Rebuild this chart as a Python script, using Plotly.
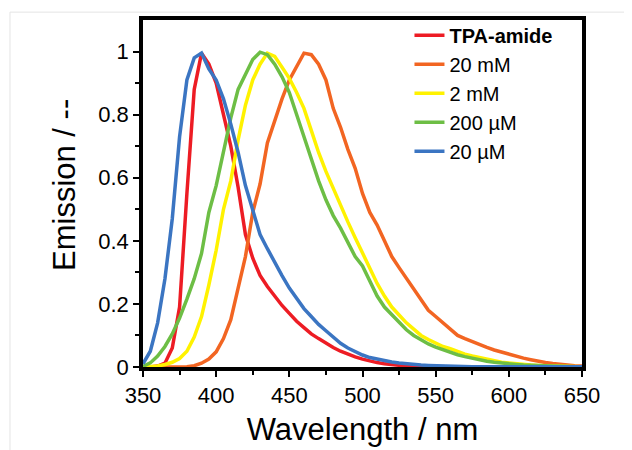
import plotly.graph_objects as go

wavelength = list(range(350, 655, 5))

tpa_amide = [0.0, 0.0, 0.003, 0.012, 0.06, 0.19, 0.55, 0.88, 0.995, 0.96,
             0.9, 0.8, 0.7, 0.57, 0.42, 0.345, 0.29, 0.255, 0.225, 0.195,
             0.17, 0.145, 0.125, 0.105, 0.09, 0.075, 0.062, 0.05, 0.04, 0.032,
             0.025, 0.019, 0.014, 0.01, 0.007, 0.005, 0.003, 0.002, 0.001, 0.001,
             0, 0, 0, 0, 0, 0, 0, 0, 0, 0,
             0, 0, 0, 0, 0, 0, 0, 0, 0, 0, 0]

c_20mM = [0, 0, 0, 0, 0, 0, 0.001, 0.004, 0.012, 0.025,
          0.048, 0.09, 0.15, 0.25, 0.35, 0.49, 0.58, 0.71, 0.78, 0.85,
          0.91, 0.95, 0.995, 0.99, 0.96, 0.91, 0.82, 0.76, 0.69, 0.63,
          0.55, 0.49, 0.45, 0.4, 0.35, 0.315, 0.28, 0.245, 0.21, 0.18,
          0.16, 0.14, 0.12, 0.1, 0.09, 0.08, 0.07, 0.062, 0.054, 0.047,
          0.04, 0.034, 0.028, 0.023, 0.018, 0.014, 0.011, 0.008, 0.006, 0.004, 0.003]

c_2mM = [0, 0.001, 0.003, 0.008, 0.015, 0.027, 0.05, 0.095, 0.16, 0.26,
         0.37, 0.5, 0.59, 0.72, 0.83, 0.91, 0.96, 0.995, 0.985, 0.95,
         0.915, 0.87, 0.82, 0.75, 0.68, 0.62, 0.565, 0.51, 0.46, 0.41,
         0.36, 0.31, 0.265, 0.225, 0.19, 0.165, 0.14, 0.12, 0.1, 0.087,
         0.075, 0.065, 0.058, 0.048, 0.041, 0.035, 0.03, 0.024, 0.019, 0.015,
         0.013, 0.01, 0.008, 0.006, 0.005, 0.004, 0.003, 0.002, 0.002, 0.001, 0.001]

c_200uM = [0.002, 0.013, 0.035, 0.065, 0.105, 0.155, 0.215, 0.28, 0.36, 0.49,
           0.575, 0.68, 0.79, 0.88, 0.925, 0.975, 0.998, 0.99, 0.96, 0.92,
           0.87, 0.8, 0.73, 0.66, 0.59, 0.53, 0.48, 0.44, 0.395, 0.35,
           0.32, 0.27, 0.225, 0.19, 0.165, 0.14, 0.118, 0.1, 0.085, 0.073,
           0.063, 0.055, 0.046, 0.039, 0.033, 0.028, 0.022, 0.018, 0.015, 0.012,
           0.01, 0.008, 0.006, 0.005, 0.004, 0.003, 0.002, 0.002, 0.001, 0.001, 0.001]

c_20uM = [0.01, 0.05, 0.14, 0.28, 0.47, 0.73, 0.91, 0.98, 0.995, 0.945,
          0.91, 0.85, 0.77, 0.68, 0.575, 0.5, 0.42, 0.375, 0.33, 0.29,
          0.25, 0.215, 0.185, 0.16, 0.135, 0.115, 0.095, 0.075, 0.06, 0.048,
          0.038, 0.03, 0.025, 0.02, 0.016, 0.013, 0.01, 0.008, 0.006, 0.005,
          0.004, 0.003, 0.002, 0.002, 0.001, 0.001, 0.001, 0.001, 0.001, 0.001,
          0.001, 0.001, 0.001, 0.001, 0.001, 0.001, 0.001, 0.001, 0.001, 0.001, 0.001]

series_names = ["<b>TPA-amide</b>", "20 mM", "2 mM", "200 µM", "20 µM"]
series_values = [tpa_amide, c_20mM, c_2mM, c_200uM, c_20uM]
series_colors = ["#ED1C24", "#F26522", "#FFF200", "#6DBE45", "#3B75C2"]

FONT = "Liberation Sans, Arial, sans-serif"

fig = go.Figure()
for name, vals, col in zip(series_names, series_values, series_colors):
    fig.add_trace(go.Scatter(x=wavelength, y=vals, mode="lines", name=name,
                             line=dict(color=col, width=3.5)))

fig.update_layout(
    width=624, height=442,
    margin=dict(l=135, r=50, t=8, b=81),
    paper_bgcolor="white", plot_bgcolor="white",
    font=dict(family=FONT, color="black", size=22),
    showlegend=True,
    legend=dict(x=0.607, y=1.012, xanchor="left", yanchor="top",
                bgcolor="rgba(0,0,0,0)", font=dict(size=20, family=FONT, color="black"),
                tracegroupgap=0),
    xaxis=dict(range=[350, 650], dtick=50, tick0=350, showgrid=False, zeroline=False,
               showline=True, linecolor="black", linewidth=3.5, mirror=True,
               ticks="outside", ticklen=6, tickwidth=1.5, tickcolor="black",
               minor=dict(dtick=25, ticks="outside", ticklen=4, tickwidth=1.5, tickcolor="black"),
               tickfont=dict(size=22, family=FONT),
               title=dict(text="Wavelength / nm", font=dict(size=31, family=FONT), standoff=12)),
    yaxis=dict(range=[0, 1.1], tickvals=[0, 0.2, 0.4, 0.6, 0.8, 1.0],
               ticktext=["0", "0.2", "0.4", "0.6", "0.8", "1"],
               showgrid=False, zeroline=False,
               showline=True, linecolor="black", linewidth=3.5, mirror=True,
               ticks="outside", ticklen=6, tickwidth=1.5, tickcolor="black",
               minor=dict(tickvals=[0.1, 0.3, 0.5, 0.7, 0.9], ticks="outside", ticklen=4,
                          tickwidth=1.5, tickcolor="black"),
               tickfont=dict(size=22, family=FONT),
               title=dict(text="&nbsp;&nbsp;Emission / --", font=dict(size=31, family=FONT), standoff=14)),
    shapes=[
        dict(type="line", xref="paper", yref="paper", x0=-0.303, x1=1.2, y0=1.0227, y1=1.0227,
             line=dict(color="#e4e4e4", width=1)),
        dict(type="line", xref="paper", yref="paper", x0=-0.303, x1=-0.303, y0=1.0227, y1=-0.3,
             line=dict(color="#e4e4e4", width=1)),
    ],
)

fig.write_html("out.html")
